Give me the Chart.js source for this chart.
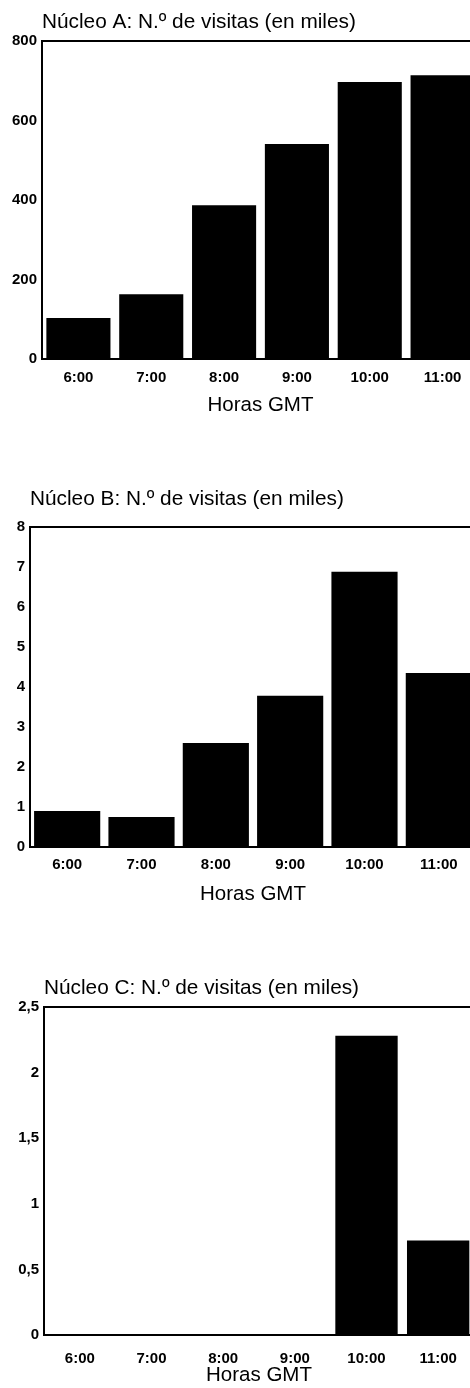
<!DOCTYPE html>
<html>
<head>
<meta charset="utf-8">
<script src="https://cdn.jsdelivr.net/npm/chart.js@4/dist/chart.umd.min.js"></script>
<style>
    html, body { margin: 0; padding: 0; background: #fff; overflow: hidden; }
    body { width: 470px; height: 1388px; position: relative; }
    canvas { position: absolute; left: 0; }
</style>
</head>
<body>
<canvas id="chartA" width="479" height="430" style="top:0px"></canvas>
<canvas id="chartB" width="476" height="440" style="top:470px"></canvas>
<canvas id="chartC" width="474" height="438" style="top:950px"></canvas>
<script>
// horas (GMT)
const hours = ["6:00", "7:00", "8:00", "9:00", "10:00", "11:00"];

// visitas en miles
const visitsA = [103, 163, 387, 541, 697, 714];
const visitsB = [0.9, 0.75, 2.6, 3.78, 6.88, 4.35];
const visitsC = [0, 0, 0, 0, 2.28, 0.72];

// ejes y
const maxA = 800, stepA = 200;
const maxB = 8, stepB = 1;
const maxC = 2.5, stepC = 0.5;

const titleA = "Núcleo A: N.º de visitas (en miles)";
const titleB = "Núcleo B: N.º de visitas (en miles)";
const titleC = "Núcleo C: N.º de visitas (en miles)";
const xTitle = "Horas GMT";

const FONT = "'Liberation Sans', Arial, Helvetica, sans-serif";

/**
 * builds one of the three bar panels
 * opts: yWidth (axis width), titlePad, xLabelPad, xTitlePad, xHeight
 */
function makeChart(id, title, values, max, step, opts) {
    let el = document.getElementById(id);
    return new Chart(el, {
        type: "bar",
        data: {
            labels: hours,
            datasets: [{
                data: values,
                backgroundColor: "#000",
                borderWidth: 0,
                barPercentage: opts.barPct,
                categoryPercentage: 1.0,
            }]
        },
        options: {
            responsive: false,
            animation: false,
            devicePixelRatio: 1,
            layout: { padding: 0 },
            plugins: {
                legend: { display: false },
                tooltip: { enabled: false },
                title: {
                    display: true,
                    text: title,
                    align: "start",
                    fullSize: false,
                    color: "#000",
                    font: { family: FONT, size: 20.8, weight: "normal", lineHeight: 1.2 },
                    padding: opts.titlePad,
                }
            },
            scales: {
                x: {
                    grid: { display: false },
                    border: { display: true, color: "#000", width: 2 },
                    ticks: {
                        color: "#000",
                        padding: opts.xLabelPad,
                        maxRotation: 0,
                        font: { family: FONT, size: 15, weight: "bold", lineHeight: 1.2 },
                    },
                    title: {
                        display: true,
                        text: xTitle,
                        color: "#000",
                        font: { family: FONT, size: 20.5, weight: "normal", lineHeight: 1.2 },
                        padding: opts.xTitlePad,
                    },
                    afterFit: function(scale) {
                        scale.height = opts.xHeight;
                    }
                },
                y: {
                    min: 0,
                    max: max,
                    grid: {
                        drawTicks: false,
                        lineWidth: 2,
                        //only the top line of the frame
                        color: function(ctx) {
                            return (ctx.tick && ctx.tick.value === max) ? "#000" : "rgba(0,0,0,0)";
                        }
                    },
                    border: { display: true, color: "#000", width: 2 },
                    ticks: {
                        stepSize: step,
                        color: "#000",
                        padding: 5,
                        font: { family: FONT, size: 15, weight: "bold" },
                        callback: function(v) {
                            return String(v).replace(".", ",");
                        }
                    },
                    afterFit: function(scale) {
                        scale.width = opts.yWidth;
                    }
                }
            }
        }
    });
}

makeChart("chartA", titleA, visitsA, maxA, stepA, {
    yWidth: 42, barPct: 0.88,
    titlePad: { top: 10, bottom: 6 },
    xLabelPad: 2, xTitlePad: { top: 0, bottom: 12.7 }, xHeight: 71
});

makeChart("chartB", titleB, visitsB, maxB, stepB, {
    yWidth: 30, barPct: 0.89,
    titlePad: { top: 17, bottom: 15 },
    xLabelPad: 1, xTitlePad: { top: 0, bottom: 3.7 }, xHeight: 63
});

makeChart("chartC", titleC, visitsC, maxC, stepC, {
    yWidth: 44, barPct: 0.87,
    titlePad: { top: 26, bottom: 6 },
    xLabelPad: 7, xTitlePad: { top: 0, bottom: 0.7 }, xHeight: 53
});
</script>
</body>
</html>
